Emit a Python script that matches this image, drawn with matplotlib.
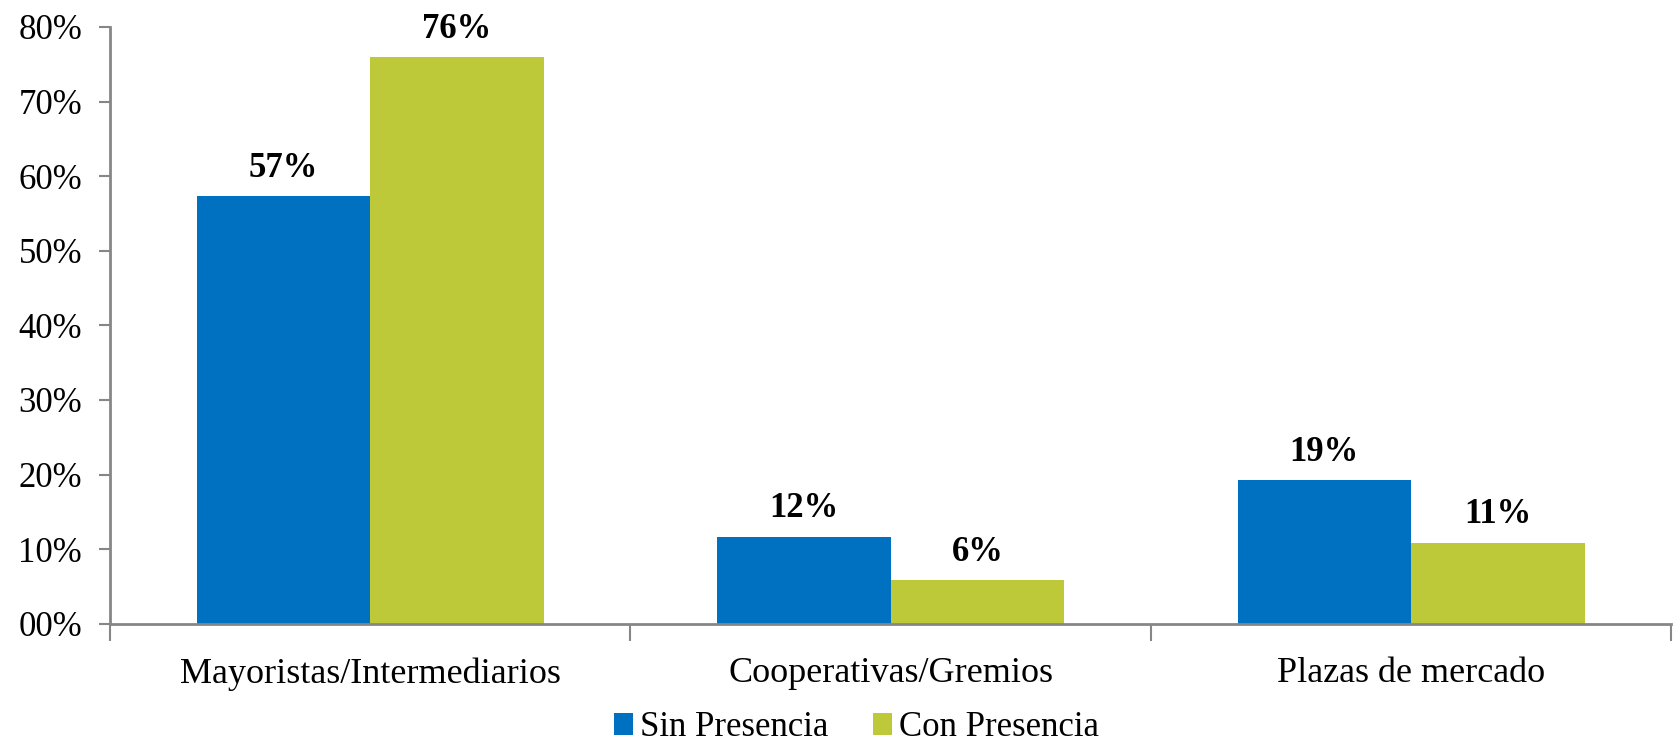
import matplotlib
matplotlib.use("Agg")
import matplotlib.pyplot as plt
import numpy as np

categories = ["Mayoristas/Intermediarios", "Cooperativas/Gremios", "Plazas de mercado"]
series_names = ["Sin Presencia", "Con Presencia"]
sin_presencia = [57.3, 11.7, 19.3]
con_presencia = [76.0, 5.9, 10.9]
sin_labels = ["57%", "12%", "19%"]
con_labels = ["76%", "6%", "11%"]
yticks = [0, 10, 20, 30, 40, 50, 60, 70, 80]
ytick_labels = ["00%", "10%", "20%", "30%", "40%", "50%", "60%", "70%", "80%"]

colors = ["#0070C0", "#BDC939"]
axis_color = "#868686"

plt.rcParams['font.family'] = ['Liberation Serif', 'DejaVu Serif']

fig = plt.figure(figsize=(16.73, 7.48), dpi=100)
ax = fig.add_axes([0.0657, 0.166, 0.9333, 0.798])

x = np.arange(len(categories))
w = 1/3
b1 = ax.bar(x - w/2, sin_presencia, w, color=colors[0], label=series_names[0])
b2 = ax.bar(x + w/2, con_presencia, w, color=colors[1], label=series_names[1])

for bars, labs in ((b1, sin_labels), (b2, con_labels)):
    for r, lab in zip(bars, labs):
        ax.annotate(lab, (r.get_x() + r.get_width()/2, r.get_height()),
                    xytext=(0, 8), textcoords="offset points",
                    ha="center", va="bottom", fontsize=25, fontweight="bold")

ax.set_ylim(0, 80)
ax.set_xlim(-0.5, 2.5)
ax.set_yticks(yticks)
ax.set_yticklabels(ytick_labels, fontsize=25)
ax.set_xticks(x)
ax.set_xticklabels(categories, fontsize=26)
ax.tick_params(axis='x', length=0, pad=24)
ax.set_xticks([-0.5, 0.5, 1.5, 2.5], minor=True)
ax.tick_params(axis='x', which='minor', length=12, color=axis_color, width=1.5, direction='out')
ax.tick_params(axis='y', length=8, color=axis_color, width=1.5, pad=12)

for s in ("top", "right"):
    ax.spines[s].set_visible(False)
for s in ("left", "bottom"):
    ax.spines[s].set_color(axis_color)
    ax.spines[s].set_linewidth(2)

fig.legend(handles=[b1, b2], labels=series_names, loc="center", bbox_to_anchor=(0.512, 0.027),
           ncol=2, frameon=False, fontsize=25, handlelength=0.55, handleheight=0.6,
           handletextpad=0.2, columnspacing=1.3, borderpad=0)

fig.savefig("out.png", dpi=100)
